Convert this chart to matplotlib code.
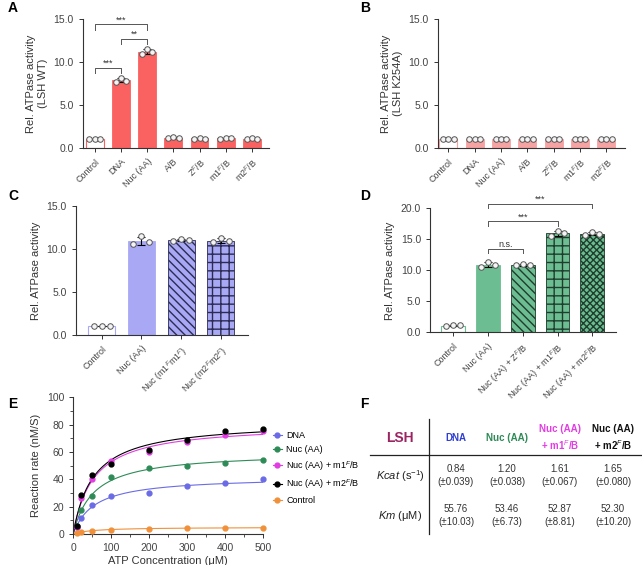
import numpy as np
import matplotlib
matplotlib.use("Agg")
from matplotlib import pyplot as plt

plt.rcParams['font.family'] = ['Liberation Sans', 'DejaVu Sans']
plt.rcParams['mathtext.fontset'] = 'custom'
plt.rcParams['mathtext.rm'] = 'Liberation Sans'
plt.rcParams['mathtext.it'] = 'Liberation Sans:italic'
plt.rcParams['mathtext.bf'] = 'Liberation Sans:bold'
plt.rcParams['hatch.linewidth'] = 1.0
plt.rcParams['axes.linewidth'] = 0.8
plt.rcParams['axes.edgecolor'] = '#333333'
plt.rcParams['xtick.color'] = '#333333'
plt.rcParams['ytick.color'] = '#333333'

# ---- panel A: LSH WT ----
cats_a = ['Control', 'DNA', 'Nuc (AA)', 'A/B', 'Z$^F$/B', 'm1$^F$/B', 'm2$^F$/B']
pts_a = [[1.0, 1.1, 1.05], [7.7, 8.2, 7.8], [11.0, 11.5, 11.2], [1.15, 1.25, 1.2],
         [1.1, 1.15, 1.1], [1.1, 1.2, 1.15], [1.05, 1.15, 1.1]]
# ---- panel B: LSH K254A ----
cats_b = cats_a
pts_b = [[1.0, 1.0, 1.0], [1.05, 1.05, 1.05], [1.0, 1.0, 1.0], [1.0, 1.0, 1.0],
         [1.0, 1.0, 1.0], [1.0, 1.0, 1.0], [1.0, 1.0, 1.0]]
# ---- panel C ----
cats_c = ['Control', 'Nuc (AA)', 'Nuc (m1$^F$m1$^F$)', 'Nuc (m2$^F$m2$^F$)']
pts_c = [[1.0, 1.1, 1.05], [10.6, 11.5, 10.8], [10.9, 11.2, 11.1], [10.8, 11.3, 10.9]]
# ---- panel D ----
cats_d = ['Control', 'Nuc (AA)', 'Nuc (AA) + Z$^F$/B', 'Nuc (AA) + m1$^F$/B', 'Nuc (AA) + m2$^F$/B']
pts_d = [[1.0, 1.15, 1.1], [10.6, 11.3, 10.9], [10.8, 11.1, 10.9], [15.6, 16.4, 16.0], [15.7, 16.2, 15.9]]

# ---- panel E: kinetics ----
atp = [10, 20, 50, 100, 200, 300, 400, 500]
rate_dna = [5, 11.5, 21.5, 28, 30, 35, 37, 40]
rate_nuc = [6, 17.5, 28, 41.5, 48, 49.5, 52, 54]
rate_m1 = [5, 26.5, 40, 53, 60, 67, 72, 75]
rate_m2 = [6, 28.5, 43, 51.5, 61.5, 68.5, 75, 76.5]
rate_ctrl = [1, 1.5, 2, 3, 3.5, 4, 4.2, 4.5]
enzyme_nM = 50.0

# ---- panel F: table ----
tab_cols = ['DNA', 'Nuc (AA)', 'Nuc (AA)\n+ m1$^F$/B', 'Nuc (AA)\n+ m2$^F$/B']
kcat = [0.84, 1.20, 1.61, 1.65]
kcat_err = [0.039, 0.038, 0.067, 0.080]
km = [55.76, 53.46, 52.87, 52.30]
km_err = [10.03, 6.73, 8.81, 10.20]
ctrl_vmax, ctrl_km = 5.0, 55.0

fig = plt.figure(figsize=(6.42, 5.65), dpi=100)


def bar_panel(rect, cats, pts, color, edge, hatches, ylim, yticks, ylabel, xlim):
    ax = fig.add_axes(rect)
    means = [np.mean(p) for p in pts]
    sds = [np.std(p, ddof=1) for p in pts]
    x = np.arange(len(cats))
    for i in x:
        fc = 'white' if i == 0 else color
        ec = color if i == 0 else edge[i]
        ax.bar(i, means[i], width=0.68, color=fc, edgecolor=ec, hatch=hatches[i],
               linewidth=0.8 if i == 0 else 0.6)
        ax.errorbar(i, means[i], yerr=sds[i], color='black', capsize=3,
                    elinewidth=0.8, capthick=0.8)
        ax.plot(i + np.array([-0.2, 0.0, 0.2]), pts[i], 'o', ms=4, mfc='#f4f4f4',
                mec='#555555', mew=0.7, zorder=5, clip_on=False)
    ax.set_xlim(*xlim)
    ax.set_ylim(*ylim)
    ax.set_yticks(yticks)
    ax.set_yticklabels(['%.1f' % t for t in yticks], fontsize=7.5, color='#444444')
    ax.set_xticks(x)
    ax.set_xticklabels(cats, rotation=45, ha='right', rotation_mode='anchor',
                       fontsize=6.5, color='#444444')
    ax.spines['top'].set_visible(False)
    ax.spines['right'].set_visible(False)
    ax.tick_params(length=3, width=0.7)
    ax.set_ylabel(ylabel, fontsize=8, color='#333333')
    return ax


def bracket(ax, x1, x2, y, h, txt):
    ax.plot([x1, x1, x2, x2], [y - h, y, y, y - h], color='#555555', lw=0.7, clip_on=False)
    ax.text((x1 + x2) / 2, y, txt, ha='center', va='bottom', fontsize=6.5, color='#333333')


red = '#FA6262'
ax_a = bar_panel([0.129, 0.738, 0.290, 0.228], cats_a, pts_a, red, [red] * 7, [None] * 7,
                 (0, 15), [0, 5, 10, 15], 'Rel. ATPase activity\n(LSH WT)', (-0.45, 6.65))
bracket(ax_a, 0, 1, 9.3, 0.6, '***')
bracket(ax_a, 1, 2, 12.7, 0.6, '**')
bracket(ax_a, 0, 2, 14.4, 0.6, '***')

pink = '#F6A3A3'
bar_panel([0.682, 0.738, 0.291, 0.228], cats_b, pts_b, pink, [pink] * 7, [None] * 7,
          (0, 15), [0, 5, 10, 15], 'Rel. ATPase activity\n(LSH K254A)', (-0.4, 6.7))

lav = '#A8A8F4'
navy = '#2B2B55'
bar_panel([0.118, 0.407, 0.268, 0.228], cats_c, pts_c, lav, [lav, lav, navy, navy],
          [None, None, '\\\\\\\\', '++'], (0, 15), [0, 5, 10, 15],
          'Rel. ATPase activity', (-0.65, 3.68))

green = '#6DBD92'
dgreen = '#1F3D2C'
ax_d = bar_panel([0.670, 0.412, 0.290, 0.219], cats_d, pts_d, green,
                 [green, green, dgreen, dgreen, dgreen],
                 [None, None, '\\\\\\\\', '++', 'xxxxx'], (0, 20), [0, 5, 10, 15, 20],
                 'Rel. ATPase activity', (-0.66, 4.69))
bracket(ax_d, 1, 2, 13.5, 0.7, 'n.s.')
bracket(ax_d, 1, 3, 17.9, 0.7, '***')
bracket(ax_d, 1, 4, 20.8, 0.7, '***')

# ---- panel E ----
ax_e = fig.add_axes([0.114, 0.055, 0.296, 0.242])
xs = np.linspace(0, 500, 300)
series = [('DNA', rate_dna, '#6B6BE6', kcat[0] * enzyme_nM, km[0]),
          ('Nuc (AA)', rate_nuc, '#2E8B57', kcat[1] * enzyme_nM, km[1]),
          ('Nuc (AA) + m1$^F$/B', rate_m1, '#E23DE2', kcat[2] * enzyme_nM, km[2]),
          ('Nuc (AA) + m2$^F$/B', rate_m2, 'black', kcat[3] * enzyme_nM, km[3]),
          ('Control', rate_ctrl, '#F0903A', ctrl_vmax, ctrl_km)]
for name, vals, col, vmax, kmv in series:
    ax_e.plot(xs, vmax * xs / (kmv + xs), color=col, lw=0.8)
    ax_e.plot(atp, vals, 'o', color=col, ms=3.5, clip_on=False, zorder=4)
    ax_e.plot([], [], '-o', color=col, ms=3.5, lw=0.8, label=name)
ax_e.set_xlim(0, 500)
ax_e.set_ylim(0, 100)
ax_e.set_xticks([0, 100, 200, 300, 400, 500])
ax_e.set_yticks([0, 20, 40, 60, 80, 100])
ax_e.set_xticks(np.arange(50, 500, 100), minor=True)
ax_e.set_yticks(np.arange(10, 100, 20), minor=True)
ax_e.tick_params(labelsize=7.5, length=3, width=0.7, labelcolor='#444444')
ax_e.tick_params(which='minor', length=2, width=0.6)
ax_e.spines['top'].set_visible(False)
ax_e.spines['right'].set_visible(False)
ax_e.set_xlabel('ATP Concentration (μM)', fontsize=8, color='#333333', labelpad=2)
ax_e.set_ylabel('Reaction rate (nM/S)', fontsize=8, color='#333333')
h, l = ax_e.get_legend_handles_labels()
ax_e.legend(h, l, loc='upper left', bbox_to_anchor=(1.03, 0.78), frameon=False,
            fontsize=6.5, handlelength=1.0, handletextpad=0.5, labelspacing=0.55,
            borderaxespad=0)

# ---- panel F: table ----
ax_f = fig.add_axes([320 / 642, 0, 322 / 642, 175 / 565])
ax_f.set_xlim(320, 642)
ax_f.set_ylim(565, 390)
ax_f.axis('off')
ax_f.plot([429, 429], [419, 534], color='#222222', lw=0.9)
ax_f.plot([370, 642], [455, 455], color='#222222', lw=0.9)
ax_f.text(400, 438, 'LSH', ha='center', va='center', fontsize=10, fontweight='bold',
          color='#9B2462')
col_x = [456, 507, 560, 613]
col_c = ['#2F3FD0', '#2E8B57', '#E23DE2', '#111111']
for cx, name, cc in zip(col_x, tab_cols, col_c):
    ax_f.text(cx, 438, name, ha='center', va='center', fontsize=7, fontweight='bold',
              color=cc, linespacing=1.3)
ax_f.text(400, 476, '$\\it{Kcat}$ (s$^{-1}$)', ha='center', va='center', fontsize=8,
          color='#222222')
ax_f.text(400, 516, '$\\it{Km}$ (μM)', ha='center', va='center', fontsize=8,
          color='#222222')
for cx, k, ke, m, me in zip(col_x, kcat, kcat_err, km, km_err):
    ax_f.text(cx, 469, '%.2f' % k, ha='center', va='center', fontsize=7, color='#333333')
    ax_f.text(cx, 482, '(±%.3f)' % ke, ha='center', va='center', fontsize=7, color='#333333')
    ax_f.text(cx, 509, '%.2f' % m, ha='center', va='center', fontsize=7, color='#333333')
    ax_f.text(cx, 522, '(±%.2f)' % me, ha='center', va='center', fontsize=7, color='#333333')

# panel letters
for lab, xp, yp in [('A', 8, 8), ('B', 360, 8), ('C', 8, 196), ('D', 360, 196),
                    ('E', 8, 404), ('F', 360, 404)]:
    fig.text(xp / 642, 1 - yp / 565, lab, fontsize=10, fontweight='bold', va='center')

fig.savefig('out.png', dpi=100)
